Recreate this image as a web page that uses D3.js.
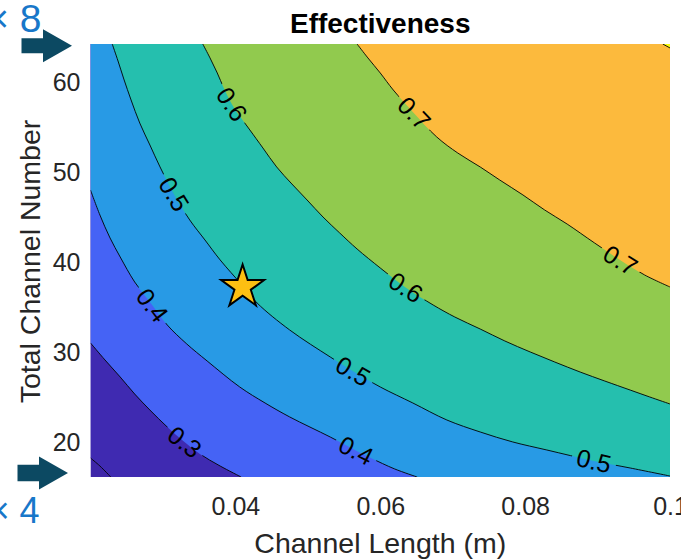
<!DOCTYPE html>
<html>
<head>
<meta charset="utf-8">
<script src="https://cdn.jsdelivr.net/npm/d3@7"></script>
<style>
  body { margin: 0; background: #fff; }
  svg text { font-family: "Liberation Sans", Arial, Helvetica, sans-serif; }
</style>
</head>
<body>
<svg id="chart" width="681" height="559"></svg>
<script>
// contour levels and the fill colour of the band above each level
const levels = [0.2, 0.3, 0.4, 0.5, 0.6, 0.7, 0.8];
const baseColor = "#3e26a8";
const levelColors = ["#3f2ab1", "#4563f5", "#289ae5", "#25bfae", "#91ca4e", "#fcba3d", "#f8fa0f"];

// contour lines: [channel length (m), total channel number]
const c02 = [[0.0200, 18.31], [0.0213, 17.42], [0.0228, 16.2]];
const c03 = [[0.0200, 31.09], [0.0220, 29.20], [0.0241, 27.31], [0.0261, 25.42], [0.0282, 23.64],
  [0.0306, 21.75], [0.0328, 20.20], [0.0351, 18.76], [0.0379, 17.42], [0.0408, 16.2]];
const c04 = [[0.0200, 48.08], [0.0213, 45.30], [0.0227, 42.75], [0.0241, 40.64], [0.0261, 37.86],
  [0.0284, 35.42], [0.0306, 33.08], [0.0333, 30.97], [0.0361, 29.09], [0.0406, 26.20], [0.0441, 24.42],
  [0.0475, 22.87], [0.0531, 20.64], [0.0565, 19.20], [0.0587, 18.31], [0.0620, 17.09], [0.0651, 16.2]];
const c05 = [[0.0230, 64.3], [0.0238, 62.41], [0.0246, 60.41], [0.0256, 58.08], [0.0268, 55.52],
  [0.0282, 53.08], [0.0296, 50.64], [0.0315, 47.64], [0.0337, 44.75], [0.0358, 42.53], [0.0379, 40.31],
  [0.0409, 37.53], [0.0430, 35.53], [0.0475, 32.53], [0.0531, 29.53], [0.0562, 27.98], [0.0600, 26.20],
  [0.0645, 24.42], [0.0692, 22.53], [0.0738, 21.20], [0.0783, 20.09], [0.0830, 19.20], [0.0895, 17.98],
  [0.0945, 17.20], [0.1000, 16.31]];
const c06 = [[0.0355, 64.3], [0.0365, 62.75], [0.0375, 61.08], [0.0384, 59.41], [0.0395, 57.64],
  [0.0408, 56.08], [0.0420, 54.75], [0.0438, 52.75], [0.0457, 50.64], [0.0478, 48.75], [0.0499, 46.97],
  [0.0521, 45.08], [0.0544, 43.31], [0.0568, 41.53], [0.0600, 39.42], [0.0634, 37.31], [0.0673, 35.31],
  [0.0703, 33.97], [0.0738, 32.64], [0.0772, 31.31], [0.0807, 30.09], [0.0841, 28.97], [0.0876, 27.86],
  [0.0910, 26.86], [0.0945, 25.86], [0.0972, 25.09], [0.1000, 24.31]];
const c07 = [[0.0568, 64.3], [0.0583, 62.75], [0.0600, 61.08], [0.0618, 59.19], [0.0645, 56.75],
  [0.0678, 53.97], [0.0707, 52.19], [0.0738, 50.64], [0.0765, 49.19], [0.0797, 47.53], [0.0827, 45.86],
  [0.0858, 44.30], [0.0896, 42.19], [0.0931, 40.31], [0.0965, 38.64], [0.1000, 37.31]];
const c08 = [[0.0990, 64.3], [0.1000, 63.86]];
const contourLines = [c02, c03, c04, c05, c06, c07, c08];

// where the inline contour labels sit
const labelSpots = [
  { v: 0.6, x: 0.0395, y: 57.6 }, { v: 0.5, x: 0.0315, y: 47.6 },
  { v: 0.7, x: 0.0648, y: 56.7 }, { v: 0.7, x: 0.0931, y: 40.2 },
  { v: 0.6, x: 0.0634, y: 37.1 }, { v: 0.5, x: 0.0895, y: 18.0 },
  { v: 0.5, x: 0.0562, y: 27.9 }, { v: 0.4, x: 0.0284, y: 35.2 },
  { v: 0.4, x: 0.0565, y: 18.9 }, { v: 0.3, x: 0.0328, y: 19.9 }
];

const xTicks = [0.04, 0.06, 0.08, 0.1];
const yTicks = [20, 30, 40, 50, 60];
const designPoint = [0.041, 37.3];
const scaleMarks = [{ text: "× 8", n: 64.1 }, { text: "× 4", n: 16.64 }];

const svg = d3.select("#chart");
const x = d3.scaleLinear().domain([0.02, 0.1]).range([90.5, 670]);
const y = d3.scaleLinear().domain([16.2, 64.3]).range([477, 44]);
const [x0, x1] = x.domain(), [y0, y1] = y.domain();

const defs = svg.append("defs");
defs.append("clipPath").attr("id", "plotClip").append("rect")
  .attr("x", x(x0)).attr("y", y(y1))
  .attr("width", x(x1) - x(x0)).attr("height", y(y0) - y(y1));

const plot = svg.append("g").attr("clip-path", "url(#plotClip)");

plot.append("rect")
  .attr("x", x(x0)).attr("y", y(y1))
  .attr("width", x(x1) - x(x0)).attr("height", y(y0) - y(y1))
  .attr("fill", baseColor);

const line = d3.line()
  .x(d => x(d[0]))
  .y(d => y(d[1]))
  .curve(d3.curveCatmullRom.alpha(0.5));

// band above each contour: the curve, then round by the top right corner
const corners = [[x1, y0], [x1, y1], [x0, y1]];
contourLines.forEach((pts, i) => {
  const d = line(pts) + corners.map(c => "L" + x(c[0]) + "," + y(c[1])).join("") + "Z";
  plot.append("path").attr("d", d).attr("fill", levelColors[i]);
});

const linesG = plot.append("g").attr("mask", "url(#labelGaps)");
linesG.selectAll("path")
  .data(contourLines)
  .join("path")
  .attr("d", line)
  .attr("fill", "none")
  .attr("stroke", "#000")
  .attr("stroke-width", 0.9);

// nearest point on the contour polyline (pixels), with the local direction
function nearestOn(pts, p) {
  let best = null;
  for (let i = 0; i < pts.length - 1; i++) {
    const a = pts[i], b = pts[i + 1];
    const dx = b[0] - a[0], dy = b[1] - a[1];
    let t = ((p[0] - a[0]) * dx + (p[1] - a[1]) * dy) / (dx * dx + dy * dy);
    t = Math.max(0, Math.min(1, t));
    const q = [a[0] + t * dx, a[1] + t * dy];
    const dist = Math.hypot(q[0] - p[0], q[1] - p[1]);
    if (!best || dist < best.dist) best = { q, dx, dy, dist };
  }
  return best;
}

const mask = defs.append("mask").attr("id", "labelGaps")
  .attr("maskUnits", "userSpaceOnUse")
  .attr("x", 0).attr("y", 0).attr("width", 681).attr("height", 559);
mask.append("rect").attr("x", 0).attr("y", 0).attr("width", 681).attr("height", 559).attr("fill", "#fff");

const labelG = svg.append("g");
labelSpots.forEach(s => {
  const pts = contourLines[levels.indexOf(s.v)].map(d => [x(d[0]), y(d[1])]);
  const near = nearestOn(pts, [x(s.x), y(s.y)]);
  let ang = Math.atan2(near.dy, near.dx) * 180 / Math.PI;
  if (ang > 90) ang -= 180;
  if (ang < -90) ang += 180;
  const tr = `translate(${near.q[0]},${near.q[1]}) rotate(${ang})`;
  const t = labelG.append("text")
    .attr("transform", tr)
    .attr("text-anchor", "middle")
    .attr("dy", "0.35em")
    .attr("font-size", 25)
    .attr("fill", "#000")
    .text(String(s.v));
  const w = t.node().getComputedTextLength();
  mask.append("rect")
    .attr("x", -w / 2 - 5).attr("y", -10)
    .attr("width", w + 10).attr("height", 20)
    .attr("transform", tr)
    .attr("fill", "#000");
});

// design point
svg.append("path")
  .attr("d", d3.symbol(d3.symbolStar, 570)())
  .attr("transform", `translate(${x(designPoint[0])},${y(designPoint[1])})`)
  .attr("fill", "#fdbf12")
  .attr("stroke", "#000")
  .attr("stroke-width", 2)
  .attr("stroke-linejoin", "miter");

// axes, tick labels only
const xAxis = svg.append("g")
  .attr("transform", `translate(0,${y(y0)})`)
  .call(d3.axisBottom(x).tickValues(xTicks).tickSize(0).tickPadding(20).tickFormat(d3.format("~g")));
const yAxis = svg.append("g")
  .attr("transform", `translate(${x(x0)},0)`)
  .call(d3.axisLeft(y).tickValues(yTicks).tickSize(0).tickPadding(10));

[xAxis, yAxis].forEach(g => {
  g.select(".domain").remove();
  g.attr("font-family", null).attr("font-size", null);
  g.selectAll("text").attr("font-size", 25).attr("fill", "#262626");
});

svg.append("text")
  .attr("x", (x(x0) + x(x1)) / 2).attr("y", 553)
  .attr("text-anchor", "middle")
  .attr("font-size", 28.5)
  .attr("fill", "#262626")
  .text("Channel Length (m)");

svg.append("text")
  .attr("transform", `translate(39.5,${(y(y0) + y(y1)) / 2 + 1}) rotate(-90)`)
  .attr("text-anchor", "middle")
  .attr("font-size", 28.5)
  .attr("fill", "#262626")
  .text("Total Channel Number");

svg.append("text")
  .attr("x", (x(x0) + x(x1)) / 2).attr("y", 33)
  .attr("text-anchor", "middle")
  .attr("font-size", 28)
  .attr("font-weight", "bold")
  .attr("fill", "#000")
  .text("Effectiveness");

// arrows marking the channel-number limits
const arrowTipX = [72, 68];
scaleMarks.forEach((m, i) => {
  const tx = arrowTipX[i], ty = y(m.n);
  const sh = i === 0 ? 7.5 : 8.3;
  const hb = tx - 29, sl = hb - 21.5;
  svg.append("path")
    .attr("d", `M${sl},${ty - sh}L${hb},${ty - sh}L${hb},${ty - 16.5}L${tx},${ty}` +
      `L${hb},${ty + 16.5}L${hb},${ty + sh}L${sl},${ty + sh}Z`)
    .attr("fill", "#0c4962");
  svg.append("text")
    .attr("x", i === 0 ? 41.5 : 39.5)
    .attr("y", i === 0 ? ty - 14 : ty + 50)
    .attr("text-anchor", "end")
    .attr("font-size", i === 0 ? 39 : 36)
    .attr("fill", "#1877c9")
    .text(m.text);
});
</script>
</body>
</html>
